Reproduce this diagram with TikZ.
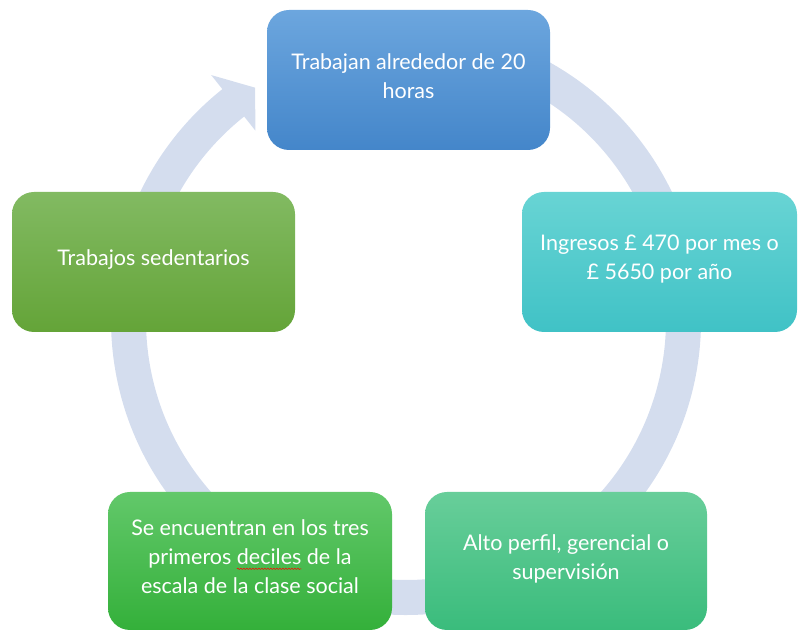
\documentclass[tikz,border=0pt]{standalone}
\usepackage{fontspec}
\setmainfont{Lato}
\usetikzlibrary{decorations.pathmorphing}
\definecolor{ringc}{RGB}{212,221,238}
\definecolor{blueT}{RGB}{108,166,222}
\definecolor{blueB}{RGB}{68,134,202}
\definecolor{cyanT}{RGB}{104,212,212}
\definecolor{cyanB}{RGB}{64,194,198}
\definecolor{mintT}{RGB}{104,206,154}
\definecolor{mintB}{RGB}{58,188,124}
\definecolor{grnT}{RGB}{98,200,106}
\definecolor{grnB}{RGB}{52,176,58}
\definecolor{oliveT}{RGB}{130,186,98}
\definecolor{oliveB}{RGB}{100,164,56}
\newlength\wvlen
\newcommand\wavyline[1]{\settowidth\wvlen{#1}\rlap{\tikz[overlay,sharp corners]\draw[red,line width=0.5pt,sharp corners,decorate,decoration={snake,amplitude=0.7pt,segment length=3pt}] (0pt,-4pt)--(\wvlen,-4pt);}#1}
\begin{document}
\begin{tikzpicture}[x=1pt,y=1pt,
  cbox/.style={rounded corners=22pt, minimum height=140pt, inner sep=0pt},
  ctext/.style={text=white, font=\fontsize{21.5}{29}\selectfont, align=center}]
\useasboundingbox (0,0) rectangle (798,631);
\coordinate (c) at (406,311);
% ring with arrowhead
\fill[ringc] ([shift={(c)}]95:295) arc[start angle=95, end angle=-231.5, radius=295]
  -- ([shift={(c)}]-231.5:313) -- ([shift={(c)}]-237:277) -- ([shift={(c)}]-231.5:242)
  -- ([shift={(c)}]-231.5:260) arc[start angle=-231.5, end angle=95, radius=260] -- cycle;
% boxes
\node[cbox, minimum width=283pt, top color=blueT, bottom color=blueB] (top) at (408.5,551) {};
\node[ctext] (toptxt) at ([yshift=4pt]top.center)
  {Trabajan alrededor de 20\\horas};
\node[cbox, minimum width=275pt, top color=cyanT, bottom color=cyanB] (right) at (659.5,369) {};
\node[ctext] (righttxt) at ([yshift=3pt]right.center)
  {Ingresos £ 470 por mes o\\£ 5650 por año};
\node[cbox, minimum width=282pt, minimum height=138pt, top color=mintT, bottom color=mintB] (bright) at (566,70) {};
\node[ctext] (brighttxt) at ([yshift=2pt]bright.center)
  {Alto perfil, gerencial o\\supervisión};
\node[cbox, minimum width=284pt, minimum height=138pt, top color=grnT, bottom color=grnB] (bleft) at (250,70) {};
\node[ctext] (blefttxt) at ([yshift=4pt]bleft.center)
  {Se encuentran en los tres\\primeros \wavyline{deciles} de la\\escala de la clase social};
\node[cbox, minimum width=283pt, top color=oliveT, bottom color=oliveB] (left) at (153.5,369) {};
\node[ctext] (lefttxt) at ([yshift=2pt]left.center)
  {Trabajos sedentarios};
\end{tikzpicture}
\end{document}
